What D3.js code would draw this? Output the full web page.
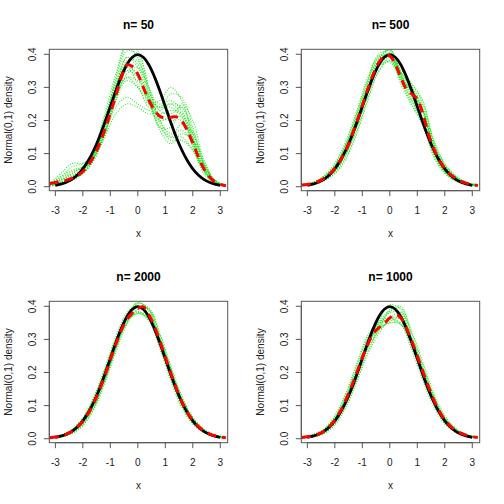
<!DOCTYPE html>
<html><head><meta charset="utf-8">
<script src="https://cdn.jsdelivr.net/npm/d3@7"></script>
<style>body{margin:0;background:#fff}svg{display:block}text{font-family:"Liberation Sans",Arial,sans-serif}</style>
</head><body><svg id="c" width="504" height="504"></svg>
<script>
// fine grid (step 0.2) and coarse grid (step 0.4)
const xFine = [-3.2,-3.0,-2.8,-2.6,-2.4,-2.2,-2.0,-1.8,-1.6,-1.4,-1.2,-1.0,-0.8,-0.6,-0.4,-0.2,0,0.2,0.4,0.6,0.8,1.0,1.2,1.4,1.6,1.8,2.0,2.2,2.4,2.6,2.8,3.0,3.2];
const xCoarse = [-3.2,-2.8,-2.4,-2.0,-1.6,-1.2,-0.8,-0.4,0,0.4,0.8,1.2,1.6,2.0,2.4,2.8,3.2];
const xNormal = [-3.0,-2.8,-2.6,-2.4,-2.2,-2.0,-1.8,-1.6,-1.4,-1.2,-1.0,-0.8,-0.6,-0.4,-0.2,0,0.2,0.4,0.6,0.8,1.0,1.2,1.4,1.6,1.8,2.0,2.2,2.4,2.6,2.8,3.0];
const normalDensity = [0.0044,0.0079,0.0136,0.0224,0.0355,0.0540,0.0790,0.1109,0.1497,0.1942,0.2420,0.2897,0.3332,0.3683,0.3910,0.3989,0.3910,0.3683,0.3332,0.2897,0.2420,0.1942,0.1497,0.1109,0.0790,0.0540,0.0355,0.0224,0.0136,0.0079,0.0044];

const titles = ["n= 50","n= 500","n= 2000","n= 1000"];
const xTicks = [-3,-2,-1,0,1,2,3];
const yTicks = [0.0,0.1,0.2,0.3,0.4];

const red50 = [0.01,0.013,0.017,0.02,0.025,0.033,0.046,0.065,0.092,0.128,0.172,0.222,0.275,0.33,0.368,0.363,0.34,0.30,0.262,0.232,0.213,0.207,0.21,0.211,0.198,0.17,0.132,0.09,0.055,0.03,0.015,0.007,0.003];
const red500 = [0.005,0.007,0.01,0.016,0.025,0.037,0.055,0.08,0.11,0.15,0.195,0.245,0.295,0.34,0.375,0.395,0.395,0.37,0.33,0.295,0.28,0.265,0.22,0.16,0.115,0.08,0.055,0.037,0.025,0.016,0.01,0.006,0.004];
const red2000 = [0.003,0.005,0.008,0.014,0.022,0.035,0.052,0.077,0.108,0.147,0.19,0.238,0.285,0.328,0.36,0.38,0.393,0.398,0.375,0.34,0.295,0.247,0.198,0.152,0.112,0.08,0.055,0.037,0.024,0.015,0.009,0.005,0.003];
const red1000 = [0.004,0.006,0.009,0.014,0.022,0.036,0.056,0.083,0.117,0.157,0.2,0.245,0.285,0.318,0.335,0.348,0.365,0.375,0.365,0.335,0.295,0.25,0.203,0.158,0.117,0.083,0.057,0.038,0.025,0.016,0.01,0.006,0.004];

const green50 = [
 [0.008,0.03,0.06,0.07,0.10,0.20,0.32,0.41,0.40,0.30,0.20,0.15,0.15,0.11,0.05,0.012,0.002],
 [0.004,0.012,0.025,0.05,0.10,0.19,0.28,0.33,0.30,0.25,0.26,0.30,0.26,0.15,0.05,0.01,0.001],
 [0.002,0.008,0.02,0.04,0.08,0.16,0.26,0.34,0.36,0.30,0.23,0.22,0.24,0.17,0.07,0.015,0.002],
 [0.01,0.03,0.05,0.06,0.09,0.16,0.24,0.27,0.25,0.23,0.22,0.23,0.22,0.15,0.06,0.015,0.003],
 [0.005,0.015,0.03,0.05,0.11,0.22,0.34,0.42,0.39,0.29,0.20,0.16,0.17,0.13,0.06,0.015,0.002],
 [0.003,0.01,0.02,0.04,0.09,0.18,0.30,0.39,0.37,0.27,0.17,0.13,0.16,0.14,0.07,0.02,0.004],
 [0.006,0.02,0.04,0.06,0.10,0.17,0.27,0.35,0.33,0.27,0.24,0.25,0.22,0.13,0.05,0.012,0.002],
 [0.002,0.008,0.02,0.04,0.08,0.16,0.28,0.38,0.38,0.28,0.18,0.18,0.25,0.20,0.08,0.02,0.003],
 [0.01,0.04,0.07,0.07,0.09,0.16,0.26,0.32,0.30,0.26,0.24,0.24,0.21,0.12,0.04,0.01,0.002],
 [0.004,0.012,0.03,0.05,0.10,0.20,0.31,0.36,0.31,0.24,0.24,0.28,0.27,0.18,0.07,0.015,0.002],
 [0.005,0.02,0.035,0.05,0.09,0.15,0.22,0.25,0.24,0.22,0.23,0.25,0.24,0.16,0.07,0.02,0.004],
 [0.003,0.01,0.02,0.04,0.09,0.19,0.33,0.43,0.41,0.30,0.19,0.14,0.14,0.11,0.05,0.012,0.002],
 [0.006,0.02,0.04,0.06,0.11,0.21,0.31,0.37,0.33,0.25,0.20,0.21,0.21,0.14,0.06,0.015,0.003],
 [0.003,0.01,0.025,0.045,0.09,0.17,0.27,0.33,0.32,0.28,0.25,0.26,0.23,0.14,0.05,0.012,0.002],
 [0.008,0.025,0.045,0.06,0.10,0.19,0.30,0.39,0.36,0.26,0.18,0.15,0.19,0.16,0.08,0.02,0.004],
 [0.004,0.015,0.03,0.05,0.10,0.18,0.29,0.36,0.34,0.26,0.21,0.20,0.20,0.13,0.05,0.012,0.002]
];
const green500 = [
 [0.006,0.013,0.033,0.071,0.137,0.23,0.33,0.395,0.39,0.31,0.245,0.185,0.09,0.04,0.017,0.007,0.003],
 [0.004,0.007,0.017,0.039,0.083,0.16,0.26,0.35,0.39,0.355,0.31,0.255,0.14,0.07,0.033,0.013,0.005],
 [0.005,0.012,0.029,0.064,0.125,0.214,0.313,0.39,0.412,0.34,0.26,0.2,0.102,0.047,0.021,0.008,0.003],
 [0.004,0.008,0.021,0.047,0.096,0.176,0.276,0.365,0.392,0.345,0.31,0.26,0.135,0.062,0.029,0.012,0.004],
 [0.007,0.014,0.031,0.062,0.12,0.205,0.3,0.365,0.38,0.33,0.29,0.235,0.13,0.066,0.031,0.013,0.005],
 [0.003,0.007,0.019,0.047,0.1,0.185,0.29,0.385,0.415,0.34,0.27,0.2,0.1,0.045,0.019,0.007,0.002],
 [0.005,0.011,0.027,0.06,0.119,0.207,0.307,0.382,0.395,0.32,0.25,0.19,0.105,0.05,0.022,0.009,0.003],
 [0.005,0.009,0.023,0.05,0.101,0.183,0.283,0.372,0.415,0.348,0.295,0.232,0.124,0.06,0.027,0.011,0.004],
 [0.006,0.013,0.031,0.068,0.131,0.223,0.323,0.39,0.395,0.33,0.29,0.23,0.11,0.048,0.02,0.008,0.003],
 [0.004,0.008,0.019,0.042,0.089,0.167,0.267,0.348,0.38,0.335,0.3,0.245,0.135,0.067,0.031,0.013,0.005],
 [0.005,0.01,0.025,0.055,0.11,0.195,0.293,0.365,0.375,0.325,0.285,0.228,0.12,0.057,0.025,0.01,0.004],
 [0.005,0.011,0.026,0.058,0.115,0.202,0.302,0.38,0.405,0.345,0.3,0.235,0.11,0.052,0.023,0.009,0.003],
 [0.005,0.009,0.024,0.052,0.105,0.188,0.288,0.37,0.395,0.335,0.285,0.226,0.12,0.058,0.026,0.01,0.004],
 [0.004,0.01,0.027,0.062,0.125,0.218,0.32,0.4,0.41,0.325,0.26,0.19,0.095,0.043,0.018,0.007,0.002]
];
const green2000 = [
 [0.004,0.010,0.027,0.063,0.126,0.213,0.308,0.38,0.403,0.365,0.272,0.175,0.094,0.044,0.019,0.007,0.002],
 [0.002,0.006,0.017,0.041,0.09,0.167,0.262,0.345,0.39,0.39,0.318,0.221,0.13,0.066,0.029,0.011,0.004],
 [0.003,0.009,0.025,0.058,0.118,0.203,0.297,0.36,0.383,0.36,0.28,0.185,0.101,0.049,0.021,0.008,0.003],
 [0.003,0.007,0.019,0.046,0.097,0.176,0.272,0.36,0.408,0.392,0.31,0.212,0.123,0.061,0.027,0.01,0.004],
 [0.005,0.011,0.027,0.06,0.118,0.2,0.29,0.355,0.378,0.362,0.3,0.208,0.123,0.063,0.029,0.012,0.005],
 [0.002,0.005,0.016,0.043,0.097,0.18,0.28,0.365,0.41,0.39,0.29,0.188,0.1,0.047,0.019,0.006,0.002],
 [0.003,0.009,0.024,0.056,0.115,0.199,0.294,0.366,0.397,0.37,0.286,0.189,0.105,0.051,0.022,0.008,0.003],
 [0.003,0.007,0.02,0.048,0.101,0.181,0.276,0.348,0.381,0.37,0.304,0.207,0.119,0.059,0.026,0.01,0.003],
 [0.005,0.011,0.028,0.063,0.125,0.21,0.3,0.365,0.385,0.355,0.283,0.19,0.108,0.053,0.023,0.009,0.003],
 [0.002,0.005,0.015,0.04,0.09,0.172,0.27,0.352,0.398,0.395,0.316,0.213,0.118,0.056,0.022,0.007,0.002],
 [0.003,0.008,0.021,0.051,0.107,0.19,0.288,0.37,0.412,0.385,0.297,0.197,0.111,0.054,0.023,0.009,0.003],
 [0.003,0.008,0.023,0.054,0.111,0.194,0.288,0.355,0.378,0.362,0.29,0.196,0.111,0.054,0.023,0.009,0.003]
];
const green1000 = [
 [0.005,0.012,0.028,0.069,0.138,0.228,0.313,0.353,0.365,0.347,0.267,0.175,0.096,0.044,0.019,0.007,0.003],
 [0.003,0.006,0.016,0.043,0.096,0.172,0.257,0.317,0.362,0.383,0.323,0.231,0.138,0.07,0.031,0.013,0.005],
 [0.004,0.01,0.025,0.063,0.128,0.214,0.299,0.35,0.385,0.375,0.281,0.189,0.106,0.051,0.022,0.008,0.003],
 [0.004,0.008,0.019,0.05,0.106,0.186,0.271,0.33,0.39,0.4,0.309,0.217,0.128,0.063,0.028,0.011,0.004],
 [0.006,0.012,0.027,0.062,0.124,0.207,0.29,0.332,0.35,0.35,0.298,0.212,0.127,0.065,0.03,0.013,0.005],
 [0.002,0.006,0.017,0.048,0.108,0.193,0.282,0.345,0.38,0.38,0.29,0.195,0.107,0.049,0.02,0.007,0.002],
 [0.004,0.01,0.024,0.06,0.122,0.207,0.292,0.34,0.365,0.36,0.288,0.196,0.112,0.054,0.023,0.009,0.003],
 [0.004,0.008,0.02,0.053,0.112,0.193,0.278,0.325,0.355,0.362,0.302,0.21,0.122,0.06,0.026,0.01,0.004],
 [0.006,0.013,0.03,0.068,0.133,0.222,0.305,0.347,0.36,0.345,0.278,0.19,0.11,0.054,0.024,0.01,0.004],
 [0.002,0.005,0.015,0.042,0.095,0.175,0.263,0.33,0.385,0.395,0.318,0.223,0.128,0.06,0.024,0.008,0.002],
 [0.004,0.009,0.022,0.056,0.117,0.2,0.29,0.355,0.405,0.39,0.298,0.203,0.116,0.056,0.025,0.01,0.004],
 [0.004,0.009,0.023,0.058,0.12,0.203,0.287,0.332,0.35,0.345,0.287,0.199,0.115,0.056,0.024,0.01,0.004]
];

const reds = [red50, red500, red2000, red1000];
const greens = [green50, green500, green2000, green1000];

const svg = d3.select("#c");
const offsets = [[0,0],[252,0],[0,252],[252,252]];
const L = 49.3, R = 227.7, T = 49.3, B = 190.7;

offsets.forEach((off, i) => {
  const g = svg.append("g").attr("transform", `translate(${off[0]},${off[1]})`);
  const x = d3.scaleLinear().domain([-3.22, 3.27]).range([L, R]);
  const y = d3.scaleLinear().domain([-0.012, 0.415]).range([B, T]);
  const cid = "clip" + i;
  g.append("clipPath").attr("id", cid).append("rect")
    .attr("x", L).attr("y", T).attr("width", R - L).attr("height", B - T);
  const plot = g.append("g").attr("clip-path", `url(#${cid})`);

  const lineC = d3.line().x((d, k) => x(xCoarse[k])).y(d => y(d)).curve(d3.curveCatmullRom);
  const lineF = d3.line().x((d, k) => x(xFine[k])).y(d => y(d)).curve(d3.curveCatmullRom);
  const lineN = d3.line().x((d, k) => x(xNormal[k])).y(d => y(d)).curve(d3.curveCatmullRom);

  greens[i].forEach(arr => {
    plot.append("path").attr("d", lineC(arr)).attr("fill", "none")
      .attr("stroke", "#11e611").attr("stroke-width", 1.1)
      .attr("stroke-dasharray", "1,1.5").attr("opacity", 0.85);
  });
  plot.append("path").attr("d", lineN(normalDensity)).attr("fill", "none")
    .attr("stroke", "#000").attr("stroke-width", 2.8);
  plot.append("path").attr("d", lineF(reds[i])).attr("fill", "none")
    .attr("stroke", "#ff0000").attr("stroke-width", 3).attr("stroke-dasharray", "9,6");

  // box
  g.append("rect").attr("x", L).attr("y", T).attr("width", R - L).attr("height", B - T)
    .attr("fill", "none").attr("stroke", "#555").attr("stroke-width", 1);

  // x axis
  const xa = g.append("g");
  xa.append("line").attr("x1", x(-3)).attr("x2", x(3)).attr("y1", B).attr("y2", B).attr("stroke", "#555");
  xTicks.forEach(t => {
    xa.append("line").attr("x1", x(t)).attr("x2", x(t)).attr("y1", B).attr("y2", B + 5.5).attr("stroke", "#555");
    xa.append("text").attr("x", x(t)).attr("y", 214).attr("text-anchor", "middle")
      .attr("font-size", 10).attr("fill", "#222").text(t < 0 ? "-" + Math.abs(t) : String(t));
  });
  // y axis
  const ya = g.append("g");
  ya.append("line").attr("x1", L).attr("x2", L).attr("y1", y(0)).attr("y2", y(0.4)).attr("stroke", "#555");
  yTicks.forEach(t => {
    ya.append("line").attr("x1", L - 5.5).attr("x2", L).attr("y1", y(t)).attr("y2", y(t)).attr("stroke", "#555");
    ya.append("text").attr("transform", `translate(36,${y(t)}) rotate(-90)`)
      .attr("text-anchor", "middle").attr("font-size", 10).attr("fill", "#222").text(t.toFixed(1));
  });
  // labels
  g.append("text").attr("x", (L + R) / 2).attr("y", 237).attr("text-anchor", "middle")
    .attr("font-size", 10).attr("fill", "#222").text("x");
  g.append("text").attr("transform", `translate(12,${(T + B) / 2}) rotate(-90)`)
    .attr("text-anchor", "middle").attr("font-size", 10).attr("fill", "#222").text("Normal(0,1) density");
  g.append("text").attr("x", (L + R) / 2).attr("y", 29).attr("text-anchor", "middle")
    .attr("font-size", 12).attr("font-weight", "bold").attr("fill", "#000").text(titles[i]);
});
</script></body></html>
